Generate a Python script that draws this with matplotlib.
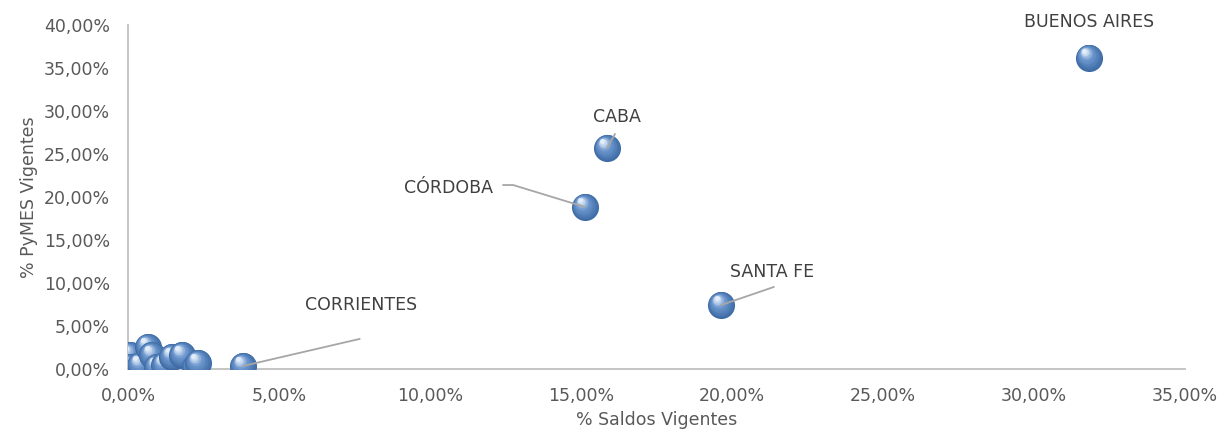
import numpy as np
import matplotlib
matplotlib.use("Agg")
import matplotlib.pyplot as plt
from matplotlib.transforms import ScaledTranslation
from matplotlib.colors import to_rgb

# Datos: % saldos vigentes (x) y % PyMES vigentes (y) por provincia
provincias = ['BUENOS AIRES', 'CABA', 'CÓRDOBA', 'SANTA FE', 'CORRIENTES',
              '', '', '', '', '', '', '', '', '', '', '']
saldos = [31.82, 15.86, 15.13, 19.64, 3.81,
          0.07, 0.07, 0.40, 0.66, 0.79, 0.96, 1.20, 1.46, 1.79, 2.22, 2.32]
pymes = [36.20, 25.70, 18.84, 7.44, 0.35,
         1.63, 0.23, 0.47, 2.56, 1.63, 0.23, 0.47, 1.40, 1.63, 0.23, 0.70]

# Posición de las etiquetas (offset en puntos) y extremo de la línea guía
etiquetas = {
    'BUENOS AIRES': dict(off=(0, 26), linea=None),
    'CABA': dict(off=(7, 22), linea=(5.8, 10.1)),
    'CÓRDOBA': dict(off=(-98, 14), linea=(-59, 15.8)),
    'SANTA FE': dict(off=(37, 24), linea=(38, 13)),
    'CORRIENTES': dict(off=(85, 44), linea=(84, 19.5)),
}

fig = plt.figure(figsize=(12.19, 4.37), dpi=100)
ax = fig.add_axes([0.105, 0.1556, 0.8671, 0.7872])

gris_txt = '#595959'
gris_eje = '#BFBFBF'

# Esferas con sombreado (capas concéntricas desplazadas)
D = 19.5
c_osc = np.array(to_rgb('#3F6CA6'))
c_med = np.array(to_rgb('#6E98CF'))
c_luz = np.array(to_rgb('#E2EDF9'))
n = 12
for x, y in zip(saldos, pymes):
    for i in range(n):
        t = i / (n - 1)
        d = D * (1 - 0.82 * t)
        if t < 0.6:
            col = c_osc + (c_med - c_osc) * (t / 0.6)
        else:
            col = c_med + (c_luz - c_med) * ((t - 0.6) / 0.4)
        desp = (D - d) / 2 * 0.75
        tr = ax.transData + ScaledTranslation(-desp * 0.55 / 72, desp * 0.8 / 72,
                                              fig.dpi_scale_trans)
        ax.plot([x], [y], 'o', ms=d, mfc=col, mec='none', transform=tr, zorder=3)

# Etiquetas de datos y líneas guía
for nombre, x, y in zip(provincias, saldos, pymes):
    if nombre not in etiquetas:
        continue
    e = etiquetas[nombre]
    ax.annotate(nombre, xy=(x, y), xytext=e['off'], textcoords='offset points',
                ha='center', va='center', fontsize=12.5, color='#404040', zorder=5)
    if e['linea'] is not None:
        props = dict(arrowstyle='-', color='#A6A6A6', lw=1.3, shrinkA=0, shrinkB=0)
        if nombre == 'CÓRDOBA':
            props['connectionstyle'] = 'angle,angleA=0,angleB=-17,rad=0'
        ax.annotate('', xy=(x, y), xytext=e['linea'], textcoords='offset points',
                    arrowprops=props, zorder=5)

ax.set_xlim(0, 35)
ax.set_ylim(0, 40)
ax.set_xticks(np.arange(0, 36, 5))
ax.set_yticks(np.arange(0, 41, 5))
fmt = lambda v, p: ('%.2f%%' % v).replace('.', ',')
ax.xaxis.set_major_formatter(plt.FuncFormatter(fmt))
ax.yaxis.set_major_formatter(plt.FuncFormatter(fmt))
ax.tick_params(axis='both', length=0, labelsize=12.5, labelcolor=gris_txt)
ax.tick_params(axis='x', pad=13)
ax.tick_params(axis='y', pad=13)

for s in ['top', 'right']:
    ax.spines[s].set_visible(False)
for s in ['left', 'bottom']:
    ax.spines[s].set_color(gris_eje)
    ax.spines[s].set_linewidth(1.3)
    ax.spines[s].set_zorder(2)

ax.set_xlabel('% Saldos Vigentes', fontsize=12.5, color=gris_txt, labelpad=4)
ax.set_ylabel('% PyMES Vigentes', fontsize=12.5, color=gris_txt, labelpad=4)

fig.savefig('out.png', dpi=100)
